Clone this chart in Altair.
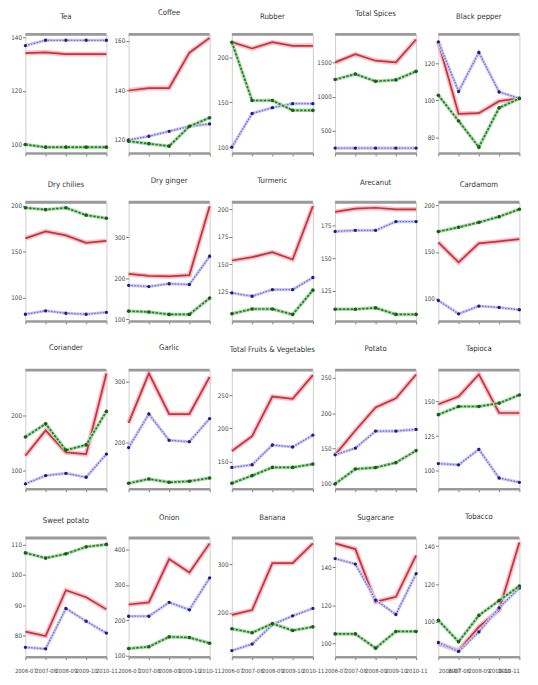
import altair as alt
import pandas as pd

years = ["2006-07", "2007-08", "2008-09", "2009-10", "2010-11"]

commodities = [
    "Tea", "Coffee", "Rubber", "Total Spices", "Black pepper",
    "Dry chilies", "Dry ginger", "Turmeric", "Arecanut", "Cardamom",
    "Coriander", "Garlic", "Total Fruits & Vegetables", "Potato", "Tapioca",
    "Sweet potato", "Onion", "Banana", "Sugarcane", "Tobacco",
]

red_series = [
    [134.2, 134.5, 133.8, 133.8, 133.8],
    [140, 141, 141, 155.3, 161.3],
    [217, 210, 217, 213, 213],
    [1500, 1620, 1525, 1500, 1835],
    [131.6, 92.6, 93, 99.5, 101],
    [164.7, 172.4, 168, 160, 162],
    [211, 206, 205, 208, 376],
    [153.5, 156.5, 161, 154.4, 203],
    [185.4, 187.9, 188.6, 187.4, 187.4],
    [160.5, 139, 159.4, 161.5, 164],
    [126.8, 172.6, 132.7, 129.8, 275.6],
    [232.4, 313.5, 247, 247, 308],
    [166, 188.5, 248.5, 245, 281],
    [141, 175.5, 208, 221, 254.6],
    [148, 153.6, 169.5, 141.7, 141.7],
    [81.3, 79.8, 94.9, 92.6, 88.6],
    [245, 251, 373, 335, 417],
    [196, 206, 302.6, 302.6, 343],
    [152.6, 149.6, 121.8, 124.5, 146.3],
    [88.7, 84.9, 97.4, 106.4, 142],
]

blue_series = [
    [137, 139, 139, 139, 139],
    [120, 121.5, 123.5, 125.5, 126.5],
    [100, 137.5, 144, 148.5, 148.5],
    [250, 250, 250, 250, 250],
    [131.6, 104.8, 125.9, 104.5, 101],
    [82.3, 86, 83.4, 82.3, 84.4],
    [183, 180, 187, 185, 254],
    [124, 121, 127, 127, 138],
    [170.5, 171.3, 171.3, 178, 178],
    [98, 83.6, 92, 90.5, 88],
    [76, 91, 95, 88, 129.8],
    [191.9, 247, 203.8, 201.6, 239.5],
    [141, 145, 175, 172, 190],
    [141, 150.5, 174.6, 174.6, 177],
    [105.2, 104.3, 115.5, 94.8, 91.7],
    [76.1, 75.6, 88.9, 84.7, 80.8],
    [212, 212, 251, 230, 320],
    [122.6, 136, 176, 194, 209.4],
    [144.6, 141.7, 122.8, 115.2, 136.7],
    [89.2, 84.5, 94.8, 107.5, 118],
]

green_series = [
    [100, 99, 99, 99, 99],
    [119.5, 118.5, 117.5, 125.5, 129],
    [217, 152, 152, 141, 141],
    [1250, 1330, 1225, 1245, 1370],
    [102.7, 88.8, 74.6, 95.9, 101],
    [198, 196, 198, 190, 186.6],
    [120, 118, 112, 112, 152],
    [105, 109.4, 109.4, 104.4, 126.5],
    [111, 111, 112, 107, 107],
    [172, 176.6, 181.9, 188, 196],
    [160.7, 184.5, 136.9, 146.4, 207],
    [133.5, 140.5, 135, 136.8, 142],
    [117, 128.5, 141, 141, 146],
    [100, 121, 123, 130, 147],
    [140.5, 146.4, 146.4, 148.8, 154.7],
    [107.2, 105.5, 106.9, 109.2, 110],
    [121, 126, 154, 152, 136],
    [167.4, 159.4, 178, 164, 171.4],
    [105, 105, 97.5, 106.3, 106.3],
    [100.9, 89.6, 103.5, 111.3, 119],
]

y_ticks = [
    [100, 120, 140], [120, 140, 160], [100, 150, 200], [500, 1000, 1500], [80, 100, 120],
    [100, 150, 200], [100, 200, 300], [125, 150, 175, 200], [125, 150, 175], [100, 150, 200],
    [100, 200], [200, 300], [150, 200, 250], [100, 150, 200, 250], [100, 125, 150],
    [80, 90, 100, 110], [100, 200, 300, 400], [200, 300], [100, 120, 140], [100, 120, 140],
]

y_domains = [
    [96.8, 141.2], [114.7, 162.7], [93.4, 225.7], [178, 1909], [71.4, 135.7],
    [75, 204], [96, 386], [98.5, 206.5], [102, 192.8], [76, 203.5],
    [67, 281.5], [124.3, 318.9], [108.5, 288.5], [93, 260.7], [87, 172.6],
    [73, 112.1], [98, 432], [110, 354], [93, 155.4], [81.7, 144.3],
]

W, H = 84, 123
FONT = "Liberation Sans Narrow, DejaVu Sans Condensed, Liberation Sans, sans-serif"


def panel(i, bottom_row, last_col):
    df = pd.DataFrame({
        "year": years * 3,
        "series": ["red"] * 5 + ["blue"] * 5 + ["green"] * 5,
        "value": red_series[i] + blue_series[i] + green_series[i],
    })
    xaxis_kw = dict(title=None, labels=bottom_row, labelAngle=0)
    if last_col and bottom_row:
        xaxis_kw["labelFlush"] = True
    x = alt.X("year:O", scale=alt.Scale(type="point", padding=0, domain=years),
              axis=alt.Axis(**xaxis_kw))
    y = alt.Y("value:Q", scale=alt.Scale(domain=y_domains[i], nice=False, zero=False),
              axis=alt.Axis(values=y_ticks[i], title=None, format="d"))
    base = alt.Chart(df).encode(x=x, y=y)
    red = base.transform_filter(alt.datum.series == "red")
    blue = base.transform_filter(alt.datum.series == "blue")
    green = base.transform_filter(alt.datum.series == "green")
    layers = [
        red.mark_line(color="#f4b3ba", strokeWidth=5, opacity=0.8),
        red.mark_line(color="#c8323f", strokeWidth=1.8),
        blue.mark_line(color="#c9c9f2", strokeWidth=3.2),
        blue.mark_line(color="#6a6ad8", strokeWidth=1.3, strokeDash=[1.5, 1.5]),
        blue.mark_point(color="#1c1c88", filled=True, size=12, opacity=1),
        green.mark_line(color="#a9d9a9", strokeWidth=3.6),
        green.mark_line(color="#237a23", strokeWidth=1.7, strokeDash=[2.5, 1.5]),
        green.mark_point(color="#175f17", filled=True, size=14, opacity=1),
        alt.Chart(pd.DataFrame({"a": [0]})).mark_rule(color="#9a9a9a", strokeWidth=3).encode(
            x=alt.value(0), x2=alt.value(W), y=alt.value(0)),
    ]
    return alt.layer(*layers).properties(
        width=W, height=H,
        title=alt.TitleParams(commodities[i], fontSize=8, font=FONT, color="#333333",
                              fontWeight="normal", offset=12),
    )


panels = [panel(i, i >= 15, i % 5 == 4) for i in range(20)]

chart = alt.concat(
    *panels, columns=5, spacing={"row": 51, "column": 23}, bounds="flush"
).properties(
    padding={"left": 0, "top": -12, "right": 0, "bottom": 0}
).configure_view(
    stroke="#cccccc", strokeWidth=1
).configure_axis(
    labelFont=FONT, labelFontSize=6.5, labelColor="#444444", grid=False,
    tickColor="#777777", tickSize=3, labelPadding=1,
).configure_axisY(
    domain=False, minExtent=17, maxExtent=17,
).configure_axisX(
    domain=True, domainColor="#9a9a9a", domainWidth=2.5, labelPadding=8,
    labelFontSize=6, labelOverlap=False,
)

chart.save("out.html", embed_options={"renderer": "svg", "actions": False})
